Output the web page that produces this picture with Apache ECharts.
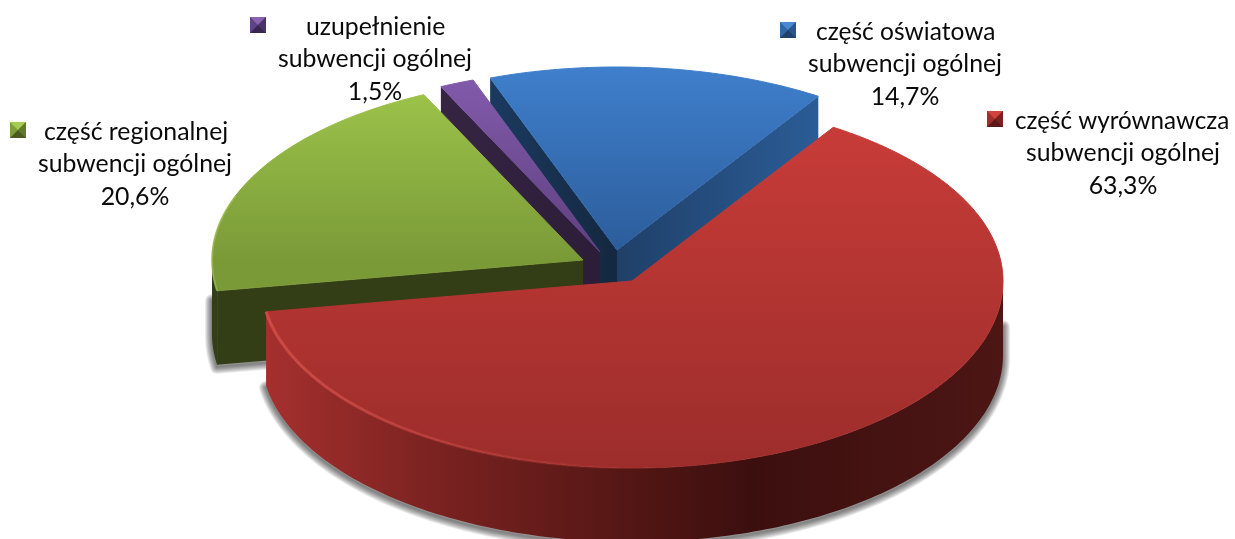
<!DOCTYPE html>
<html lang="pl">
<head>
    <meta charset="utf-8">
    <title>Subwencja ogólna</title>
    <style>
        html, body { margin: 0; padding: 0; background: #fff; }
        #chart { width: 1235px; height: 539px; }
    </style>
</head>
<body>
<div id="chart"></div>
<script src="https://cdn.jsdelivr.net/npm/echarts@6/dist/echarts.min.js"></script>
<script type="text/javascript">
    // clockwise from the left edge of the blue slice
    var names = ['część oświatowa', 'część wyrównawcza', 'część regionalnej', 'uzupełnienie'];
    var secondLine = 'subwencji ogólnej';
    var values = [14.7, 63.3, 20.6, 1.5];

    // pie geometry (px)
    var startAngle = -20;
    var rx = 371, ryBack = 183, ryFront = 187, depth = 74;

    // exploded apex of each slice and paint order
    var apex = [[617, 250], [632, 281], [583, 260], [600, 252]];
    var paint = [10, 40, 30, 20];

    var topColors = [['#3f7fcc', '#2c5d9b'], ['#cb3d39', '#9c2d2b'], ['#9fc64b', '#7a9a38'], ['#835cad', '#5f4080']];
    // walls of the cut edges, null where the slice's own top hides them
    var cutFrom = [['#1b3a60', '#14283f'], null, ['#333d16', '#333d16'], ['#362443', '#2c1d38']];
    var cutTo = [['#1f4068', '#2b5c96'], null, null, null];
    // outer wall, left to right
    var sideStops = [
        null,
        [[0, '#a5302e'], [0.22, '#7c2321'], [0.5, '#521614'], [0.66, '#3c0f0f'], [1, '#4c1614']],
        [[0, '#333d16'], [1, '#333d16']],
        null
    ];
    // legend key faces: top, left, right, bottom
    var keyColors = [
        ['#4a88d4', '#2f66a8', '#28568c', '#1e4069'],
        ['#d2433f', '#a03030', '#7a2120', '#5a1817'],
        ['#a5cc52', '#7d9e3b', '#62792c', '#4a5a20'],
        ['#8a63b5', '#5f4288', '#4b3369', '#382650']
    ];

    // text layout: first line left edge, centre of the lines below, first line middle
    var keyPos = [[780, 22], [987, 111], [10, 122], [250, 17]];
    var textPos = [[816, 905, 32], [1015, 1123, 121], [44, 135, 132], [306, 375, 27]];
    var nameSize = [24.5, 24.2, 24.8, 24.8];
    var lineGap = 32.5;

    var total = values.reduce(function (a, b) { return a + b; }, 0);

    function rimPoint(c, deg, drop) {
        var r = deg * Math.PI / 180;
        var cos = Math.cos(r);
        return [c[0] + rx * Math.sin(r), c[1] - (cos > 0 ? ryBack : ryFront) * cos + (drop || 0)];
    }

    function arcPoints(c, from, to, drop) {
        var pts = [];
        var steps = Math.max(2, Math.ceil(Math.abs(to - from)));
        for (var i = 0; i <= steps; i++) {
            pts.push(rimPoint(c, from + (to - from) * i / steps, drop));
        }
        return pts;
    }

    function gradient(x, y, x2, y2, stops) {
        return {
            type: 'linear', x: x, y: y, x2: x2, y2: y2, global: true,
            colorStops: stops.map(function (s) { return {offset: s[0], color: s[1]}; })
        };
    }

    function pair(colors) {
        return [[0, colors[0]], [1, colors[1]]];
    }

    function poly(points, fill, z2, extra) {
        var style = {fill: fill};
        for (var k in (extra || {})) style[k] = extra[k];
        return {type: 'polygon', shape: {points: points}, style: style, z2: z2};
    }

    function cutWall(c, deg, colors, z2) {
        var rim = rimPoint(c, deg);
        var x0 = Math.min(rim[0], c[0]), x1 = Math.max(rim[0], c[0]);
        return poly([c, rim, [rim[0], rim[1] + depth], [c[0], c[1] + depth]],
            gradient(x0, 0, x1, 0, pair(colors)), z2);
    }

    // soft drop shadow: stacked translucent strokes under the wall
    function softShadow(points, z2) {
        var out = [];
        var moved = points.map(function (p) { return [p[0], p[1] + 2]; });
        for (var w = 14; w >= 2; w -= 2) {
            out.push({
                type: 'polyline', z2: z2,
                shape: {points: moved},
                style: {fill: null, stroke: 'rgba(0,0,0,0.085)', lineWidth: w, lineCap: 'round', lineJoin: 'round'}
            });
        }
        return out;
    }

    function renderSlice(params, api) {
        var i = params.dataIndex;
        var before = 0;
        for (var n = 0; n < i; n++) before += values[n];
        var from = startAngle + before / total * 360;
        var to = from + api.value(0) / total * 360;
        var c = apex[i], z = paint[i];
        var children = [];

        // outer wall, only the part that faces the viewer
        var a = Math.max(from, 90), b = Math.min(to, 270);
        if (b > a && sideStops[i]) {
            var upper = arcPoints(c, a, b);
            var lower = arcPoints(c, b, a, depth);
            var edge;
            if (i === 1) {
                // runs a little way up the right side, stops at the left corner
                var rightEnd = lower[lower.length - 1];
                edge = lower.concat([[rightEnd[0], rightEnd[1] - 30]]);
            } else {
                // up the left side and along the foot of the cut wall
                var leftEnd = lower[0];
                edge = [[leftEnd[0], leftEnd[1] - 35]].concat(lower, [[c[0], c[1] + depth]]);
            }
            children = children.concat(softShadow(edge, z - 1));
            children.push(poly(upper.concat(lower), gradient(upper[upper.length - 1][0], 0, c[0] + rx, 0, sideStops[i]), z));
        }

        // cut faces
        if (cutFrom[i]) children.push(cutWall(c, from, cutFrom[i], z + 1));
        if (cutTo[i]) children.push(cutWall(c, to, cutTo[i], z + 1));

        // top face
        var top = [c].concat(arcPoints(c, from, to));
        var fill = gradient(0, c[1] - ryBack, 0, i === 1 ? c[1] + ryFront : c[1], pair(topColors[i]));
        children.push(poly(top, fill, z + 3, {stroke: fill, lineWidth: 1, lineJoin: 'round'}));

        // lighter bevel on the front-left rim
        if (i === 1) {
            children.push({
                type: 'polyline', z2: z + 4,
                shape: {points: arcPoints(c, 180, to)},
                style: {
                    fill: null, lineWidth: 3,
                    stroke: gradient(266, 0, 640, 0, pair(['rgba(222,84,78,0.7)', 'rgba(222,84,78,0)']))
                }
            });
        }
        if (i === 2) {
            children.push({
                type: 'polyline', z2: z + 4,
                shape: {points: arcPoints(c, from, from + 30)},
                style: {
                    fill: null, lineWidth: 2,
                    stroke: gradient(212, 0, 300, 0, pair(['rgba(170,205,90,0.5)', 'rgba(170,205,90,0)']))
                }
            });
        }

        // legend key
        var kx = keyPos[i][0], ky = keyPos[i][1], s = 16, m = s / 2;
        var tl = [kx, ky], tr = [kx + s, ky], br = [kx + s, ky + s], bl = [kx, ky + s], mid = [kx + m, ky + m];
        children.push(poly([tl, tr, br, bl], keyColors[i][1], 99));
        children.push(poly([tl, tr, mid], keyColors[i][0], 100));
        children.push(poly([tr, br, mid], keyColors[i][2], 100));
        children.push(poly([bl, br, mid], keyColors[i][3], 100));

        // label text
        var p = textPos[i];
        var pct = api.value(0).toFixed(1).replace('.', ',') + '%';
        var lines = [[names[i], p[0], 'left', nameSize[i]], [secondLine, p[1], 'center', 24.8], [pct, p[1], 'center', 24.8]];
        lines.forEach(function (l, row) {
            children.push({
                type: 'text', z2: 100,
                style: {
                    text: l[0], x: l[1], y: p[2] + row * lineGap,
                    align: l[2], verticalAlign: 'middle',
                    font: l[3] + 'px Lato, "Noto Sans", sans-serif', fill: '#0a0a0a'
                }
            });
        });

        return {type: 'group', children: children};
    }

    var myChart = echarts.init(document.getElementById('chart'));
    var option = {
        animation: false,
        backgroundColor: '#fff',
        series: [{
            type: 'custom',
            coordinateSystem: 'none',
            renderItem: renderSlice,
            data: values.map(function (v) { return [v]; })
        }]
    };
    myChart.setOption(option);
</script>
</body>
</html>
